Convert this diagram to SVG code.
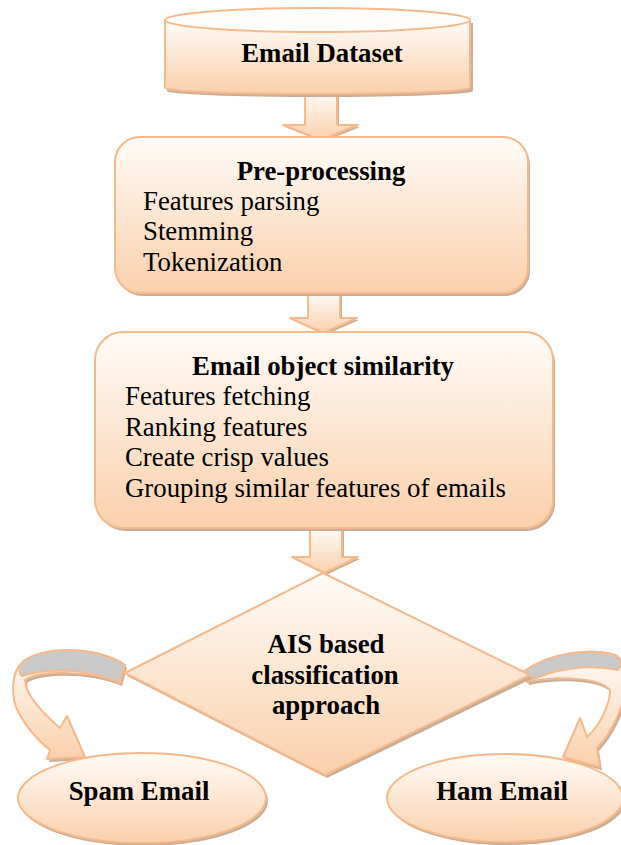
<svg xmlns="http://www.w3.org/2000/svg" width="621" height="845" viewBox="0 0 621 845">
<defs>
<linearGradient id="g" x1="0" y1="0" x2="0" y2="1">
<stop offset="0" stop-color="#fffbf8"/>
<stop offset="1" stop-color="#fad0ab"/>
</linearGradient>
<style>
.sh{fill:#c7ae96;stroke:none}
.f{fill:url(#g);stroke:#f7b98b;stroke-width:2;stroke-linejoin:round}
.gr{fill:#c9c9c9;stroke:#f7b98b;stroke-width:2;stroke-linejoin:round}
.t{font-family:"Liberation Serif","Times New Roman",serif;font-size:26.8px;fill:#000}
.b{font-weight:bold;text-anchor:middle}
</style>
</defs>
<g id="connectors">
<path class="sh" d="M307,92 L339,92 L339,127 L360,127 L323,142 L285,127 L307,127 Z"/>
<path class="f" d="M305,90 L337,90 L337,125 L358,125 L321,140 L283,125 L305,125 Z"/>
<path class="sh" d="M310,295 L342,295 L342,320 L359,320 L325,335 L292,320 L310,320 Z"/>
<path class="f" d="M308,293 L340,293 L340,318 L357,318 L323,333 L290,318 L308,318 Z"/>
<path class="sh" d="M312,530 L344,530 L344,559 L360,559 L326,575 L294,559 L312,559 Z"/>
<path class="f" d="M310,528 L342,528 L342,557 L358,557 L324,573 L292,557 L310,557 Z"/>
<g id="arrow-spam">
<path class="sh" d="M127,668 C102,651 52,648 27,663 C12,673 12,703 22,718 C30,733 42,745 52,753 L49,762 L87,760 L69,719 L62,731 C47,718 27,698 27,683 C42,673 92,673 122,686 Z"/>
<path class="f" d="M125,665 C100,648 50,645 25,660 C10,670 10,700 20,715 C28,730 40,742 50,750 L47,759 L85,757 L67,716 L60,728 C45,715 25,695 25,680 C40,670 90,670 120,683 Z"/>
<path class="gr" d="M125,665 C100,648 50,645 25,660 C18,665 18,672 22,676 C45,668 90,668 120,683 Z"/>
</g>
<g id="arrow-ham">
<path class="sh" d="M525,675 C552,655 592,651 617,658 C632,665 630,693 624,708 C617,728 607,743 599,751 L602,770 L565,760 L582,721 L589,740 C602,728 612,708 612,693 C602,681 562,678 529,685 Z"/>
<path class="f" d="M523,672 C550,652 590,648 615,655 C630,662 628,690 622,705 C615,725 605,740 597,748 L600,767 L563,757 L580,718 L587,737 C600,725 610,705 610,690 C600,678 560,675 527,682 Z"/>
<path class="gr" d="M523,672 C550,652 590,648 615,655 C622,660 622,665 618,670 C590,664 555,668 527,682 Z"/>
</g>
</g>
<g id="email-dataset">
<path class="sh" d="M167,23 L167,91 A153,6 0 0 0 473,91 L473,23 Z"/>
<path class="f" d="M165,20 L165,88 A152.5,6 0 0 0 470,88 L470,20 Z"/>
<ellipse cx="317.5" cy="20" rx="152.5" ry="12" fill="#fffdfb" stroke="#f7b98b" stroke-width="2"/>
<text class="t b" x="322" y="62">Email Dataset</text>
</g>
<g id="pre-processing">
<rect class="sh" x="117" y="140" width="413" height="156" rx="25"/>
<rect class="f" x="115" y="137" width="413" height="156" rx="25"/>
<text class="t b" x="321" y="180">Pre-processing</text>
<text class="t" x="143" y="210">Features parsing</text>
<text class="t" x="143" y="240">Stemming</text>
<text class="t" x="143" y="271">Tokenization</text>
</g>
<g id="email-object-similarity">
<rect class="sh" x="97" y="335" width="458" height="196" rx="28"/>
<rect class="f" x="95" y="332" width="458" height="196" rx="28"/>
<text class="t b" x="323" y="375">Email object similarity</text>
<text class="t" x="125" y="405">Features fetching</text>
<text class="t" x="125" y="436">Ranking features</text>
<text class="t" x="125" y="466">Create crisp values</text>
<text class="t" x="125" y="497">Grouping similar features of emails</text>
</g>
<g id="ais-classification">
<path class="sh" d="M325,576 L533,678 L327,778 L127,676 Z"/>
<path class="f" d="M323,573 L530,675 L325,775 L125,673 Z"/>
<text class="t b" x="326" y="653">AIS based</text>
<text class="t b" x="325" y="684">classification</text>
<text class="t b" x="326" y="714">approach</text>
</g>
<g id="spam-email">
<ellipse class="sh" cx="144" cy="801" rx="124" ry="45"/>
<ellipse class="f" cx="142" cy="798" rx="124" ry="45"/>
<text class="t b" x="139" y="800">Spam Email</text>
</g>
<g id="ham-email">
<ellipse class="sh" cx="507" cy="801" rx="118" ry="44"/>
<ellipse class="f" cx="505" cy="798" rx="118" ry="44"/>
<text class="t b" x="502" y="800">Ham Email</text>
</g>
</svg>
